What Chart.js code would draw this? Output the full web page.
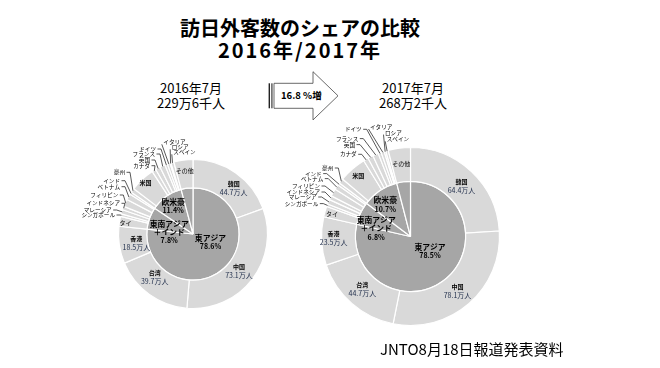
<!DOCTYPE html>
<html>
<head>
<meta charset="utf-8">
<script src="https://cdn.jsdelivr.net/npm/chart.js@4.4.0/dist/chart.umd.min.js"></script>
<style>
  html, body { margin: 0; padding: 0; background: #fff; width: 660px; height: 368px; overflow: hidden;
    font-family: "Noto Sans CJK JP", sans-serif; }
  .t { position: absolute; white-space: nowrap; color: #000; text-align: center; }
  canvas { position: absolute; }
  svg { position: absolute; left: 0; top: 0; }
</style>
</head>
<body>
<div class="t" style="left:0;width:600px;top:17px;font-size:20px;font-weight:bold;line-height:22px">
  訪日外客数のシェアの比較<br><span style="letter-spacing:2px">2016年/2017年</span>
</div>
<div class="t" id="head2016" style="left:91px;width:200px;top:80px;font-size:13px;line-height:15px"></div>
<div class="t" id="head2017" style="left:313px;width:200px;top:80px;font-size:13px;line-height:15px"></div>

<svg width="660" height="368">
  <rect x="268.6" y="83.3" width="1.4" height="25" fill="#222"></rect>
  <rect x="271.2" y="83.3" width="1.4" height="25" fill="#555"></rect>
  <polygon points="274,83.3 313,83.3 313,71.7 338,95.8 313,119.9 313,108.3 274,108.3"
           fill="#fff" stroke="#444" stroke-width="0.8"></polygon>
  <text id="growth" x="281" y="99.4" font-size="9.5" font-weight="bold" fill="#000"
        font-family="Noto Sans CJK JP, sans-serif"></text>
</svg>

<canvas id="pie2016" width="250" height="200" style="left:68px;top:134px"></canvas>
<canvas id="pie2017" width="261" height="241" style="left:280px;top:116px"></canvas>

<div class="t" style="left:380px;top:340px;font-size:15px;line-height:18px;text-align:left">JNTO8月18日報道発表資料</div>

<script>
// 国・地域別 訪日外客数（万人）, 7月
var countries = ['韓国', '中国', '台湾', '香港',
  'タイ', 'シンガポール', 'マレーシア', 'インドネシア', 'フィリピン', 'ベトナム', 'インド',
  '豪州', '米国', 'カナダ', '英国', 'フランス', 'ドイツ', 'イタリア', 'ロシア', 'スペイン',
  'その他'];
var regionOfCountry = ['東アジア', '東アジア', '東アジア', '東アジア',
  '東南アジア＋インド', '東南アジア＋インド', '東南アジア＋インド', '東南アジア＋インド',
  '東南アジア＋インド', '東南アジア＋インド', '東南アジア＋インド',
  '欧米豪', '欧米豪', '欧米豪', '欧米豪', '欧米豪', '欧米豪', '欧米豪', '欧米豪', '欧米豪',
  'その他'];
var visitors2016 = [44.7, 73.1, 39.7, 18.5,
  4.9, 1.3, 2.1, 1.8, 3.7, 3.0, 1.1,
  2.2, 12.4, 2.0, 2.4, 2.6, 1.3, 1.3, 0.5, 1.5,
  9.5];
var visitors2017 = [64.4, 78.1, 44.7, 23.5,
  5.1, 1.3, 2.3, 2.0, 3.7, 2.4, 1.2,
  2.4, 13.5, 2.4, 2.6, 2.8, 1.5, 1.5, 0.8, 1.2,
  10.8];

var regions = ['東アジア', '東南アジア＋インド', '欧米豪', 'その他'];
var regionLines = [['東アジア'], ['東南アジア', '＋インド'], ['欧米豪'], []];
var share2016 = ['78.6%', '7.8%', '11.4%', ''];
var share2017 = ['78.5%', '6.8%', '10.7%', ''];

var monthLabel = ['2016年7月', '2017年7月'];
var totalLabel = ['229万6千人', '268万2千人'];
var growthLabel = '16.8 %増';

document.getElementById('head2016').innerHTML = monthLabel[0] + '<br>' + totalLabel[0];
document.getElementById('head2017').innerHTML = monthLabel[1] + '<br>' + totalLabel[1];
document.getElementById('growth').textContent = growthLabel;

var FONT = '"Noto Sans CJK JP", sans-serif';
var VALUE_COLOR = '#1f2d4a';

// label placement: ring = [radius fraction, nudge x, nudge y]; leader = [dx, dy, align] from centre
var layout2016 = {
  radius: 74.5,
  ring: { '韓国': [0.81, 6, 3], '中国': [0.81, -2, 0], '台湾': [0.81, -3, -6], '香港': [0.81, 3, 0],
    'タイ': [0.92, 0, 0], '米国': [0.94, 0, 0], 'その他': [0.86, 0, 0] },
  leader: {
    'シンガポール': [-78, -19, 'right'], 'マレーシア': [-81.3, -24, 'right'],
    'インドネシア': [-73, -30.7, 'right'], 'フィリピン': [-74.7, -39, 'right'],
    'ベトナム': [-73, -47.3, 'right'], 'インド': [-73, -53.3, 'right'], '豪州': [-68, -61.7, 'right'],
    'カナダ': [-43, -68.3, 'right'], '英国': [-43, -74, 'right'], 'フランス': [-38, -80, 'right'],
    'ドイツ': [-37, -85, 'right'], 'イタリア': [-29.7, -91.7, 'left'], 'ロシア': [-21.3, -86.7, 'left'],
    'スペイン': [-19.7, -81.7, 'left'] },
  inner: { '東アジア': [0.27, 4, -7], '東南アジア＋インド': [0.34, 0, 7], '欧米豪': [0.46, 0, 0] }
};
var layout2017 = {
  radius: 89,
  ring: { '韓国': [0.82, 1, 3], '中国': [0.82, -1, 0], '台湾': [0.82, 0, -2], '香港': [0.82, -4, -2],
    'タイ': [0.92, 0, 0], '米国': [0.9, 0, 0], 'その他': [0.82, 0, 0] },
  leader: {
    'シンガポール': [-92.2, -32.9, 'right'], 'マレーシア': [-93.8, -39.5, 'right'],
    'インドネシア': [-90.5, -44.5, 'right'], 'フィリピン': [-90.5, -50.5, 'right'],
    'ベトナム': [-87.2, -57.9, 'right'], 'インド': [-88.8, -62.9, 'right'], '豪州': [-77.2, -68.5, 'right'],
    'カナダ': [-53.8, -82.2, 'right'], '英国': [-55.5, -91.9, 'right'], 'フランス': [-52.2, -97.9, 'right'],
    'ドイツ': [-48.8, -107.2, 'right'], 'イタリア': [-40.5, -109.5, 'left'], 'ロシア': [-25.5, -103.9, 'left'],
    'スペイン': [-23.8, -97.2, 'left'] },
  inner: { '東アジア': [0.27, 4.5, -4], '東南アジア＋インド': [0.40, -2, 7], '欧米豪': [0.43, -4, 0] }
};

function regionTotals(values) {
  return regions.map(function (rg) {
    var s = 0;
    values.forEach(function (v, i) { if (regionOfCountry[i] === rg) s += v; });
    return Math.round(s * 10) / 10;
  });
}

function polar(arc, r) {
  var m = (arc.startAngle + arc.endAngle) / 2;
  return { x: arc.x + Math.cos(m) * r, y: arc.y + Math.sin(m) * r };
}

function labelPlugin(L, shares) {
  return {
    id: 'pieLabels',
    afterDatasetsDraw: function (chart) {
      var ctx = chart.ctx;
      var outer = chart.getDatasetMeta(0).data;
      var inner = chart.getDatasetMeta(1).data;
      var values = chart.data.datasets[0].data;
      ctx.save();
      ctx.textBaseline = 'middle';

      countries.forEach(function (name, i) {
        var arc = outer[i];
        var R = arc.outerRadius;
        var rl = L.ring[name];
        if (rl) {
          var p = polar(arc, R * rl[0]);
          var x = p.x + rl[1], y = p.y + rl[2];
          ctx.textAlign = 'center';
          ctx.fillStyle = '#000';
          if (regionOfCountry[i] === '東アジア') {
            ctx.font = 'bold 6px ' + FONT;
            ctx.fillText(name, x, y - 4.3);
            ctx.font = '7px ' + FONT;
            ctx.fillStyle = VALUE_COLOR;
            ctx.fillText(values[i].toFixed(1) + '万人', x, y + 4.3);
          } else {
            ctx.font = (name === '米国' ? 'bold ' : '') + '6px ' + FONT;
            ctx.fillText(name, x, y);
          }
        }
        var ll = L.leader[name];
        if (ll) {
          var ax = arc.x + ll[0], ay = arc.y + ll[1];
          ctx.font = '5.6px ' + FONT;
          ctx.fillStyle = '#000';
          ctx.textAlign = ll[2];
          ctx.fillText(name, ax, ay);
          var e = polar(arc, R - 0.5);
          ctx.beginPath();
          ctx.strokeStyle = '#111';
          ctx.lineWidth = 0.7;
          if (ll[2] === 'right') {
            ctx.moveTo(ax + 1.5, ay);
            ctx.lineTo(ax + 5, ay);
          } else {
            ctx.moveTo(ax - 1.5, ay + 2);
          }
          ctx.lineTo(e.x, e.y);
          ctx.stroke();
        }
      });

      regions.forEach(function (rg, j) {
        var il = L.inner[rg];
        if (!il) return;
        var p = polar(inner[j], outer[0].outerRadius * il[0]);
        var lines = regionLines[j].concat([shares[j]]);
        var x = p.x + il[1];
        var y0 = p.y + il[2] - (lines.length - 1) * 8.4 / 2;
        ctx.textAlign = 'center';
        ctx.fillStyle = '#000';
        lines.forEach(function (t, k) {
          ctx.font = 'bold ' + (k < lines.length - 1 ? 7.8 : 7) + 'px ' + FONT;
          ctx.fillText(t, x, y0 + k * 8.4);
        });
      });
      ctx.restore();
    }
  };
}

function makePie(id, values, shares, L) {
  return new Chart(document.getElementById(id).getContext('2d'), {
    type: 'doughnut',
    data: {
      labels: countries,
      datasets: [
        { data: values, backgroundColor: '#d9d9d9', borderColor: '#fff', borderWidth: 1.2, weight: 0.38 },
        { data: regionTotals(values), backgroundColor: '#a6a6a6', borderColor: '#fff', borderWidth: 1.2, weight: 0.62 }
      ]
    },
    options: {
      responsive: false, animation: false, events: [],
      cutout: 0, radius: L.radius,
      plugins: { legend: { display: false }, tooltip: { enabled: false } }
    },
    plugins: [labelPlugin(L, shares)]
  });
}

makePie('pie2016', visitors2016, share2016, layout2016);
makePie('pie2017', visitors2017, share2017, layout2017);
</script>
</body>
</html>
